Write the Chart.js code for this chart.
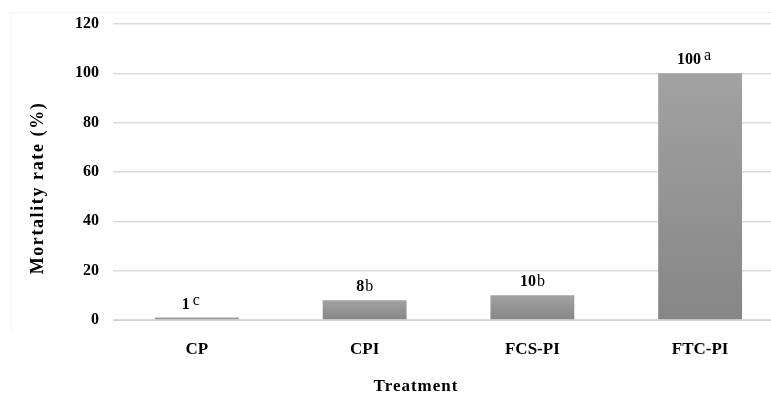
<!DOCTYPE html>
<html>
<head>
<meta charset="utf-8">
<script src="https://cdn.jsdelivr.net/npm/chart.js@4"></script>
<style>
html,body{margin:0;padding:0;background:#fff;overflow:hidden;}
#wrap{position:relative;width:785px;height:396px;}
</style>
</head>
<body>
<div id="wrap"><canvas id="c" width="785" height="396"></canvas></div>
<script>
const categories = ['CP', 'CPI', 'FCS-PI', 'FTC-PI'];
const mortality = [1, 8, 10, 100];
const letters = ['c', 'b', 'b', 'a'];
const yTicks = [0, 20, 40, 60, 80, 100, 120];
const yTitle = 'Mortality rate (%)';
const xTitle = 'Treatment';

const SERIF = '"Liberation Serif", "Times New Roman", serif';

const labelPlugin = {
  id: 'valueLabels',
  afterDatasetsDraw(chart) {
    const ctx = chart.ctx;
    const meta = chart.getDatasetMeta(0);
    ctx.save();
    meta.data.forEach((bar, i) => {
      const num = String(mortality[i]);
      const let_ = letters[i];
      const raised = (let_ === 'a' || let_ === 'c');
      ctx.font = 'bold 16px ' + SERIF;
      const wn = ctx.measureText(num).width;
      ctx.font = '16px ' + SERIF;
      const gap = raised ? 3 : 1;
      const wl = ctx.measureText(let_).width;
      const total = wn + gap + wl;
      const x0 = bar.x - total / 2 - (raised ? 6 : 0);
      const y = bar.y - 9;
      ctx.fillStyle = '#000';
      ctx.textBaseline = 'alphabetic';
      ctx.textAlign = 'left';
      ctx.font = 'bold 16px ' + SERIF;
      ctx.fillText(num, x0, y);
      ctx.font = '16px ' + SERIF;
      ctx.fillText(let_, x0 + wn + gap, y - (raised ? 4 : 0));
    });
    ctx.restore();
  }
};

const titlePlugin = {
  id: 'axisTitles',
  afterDraw(chart) {
    const ctx = chart.ctx;
    const ca = chart.chartArea;
    ctx.save();
    ctx.fillStyle = '#000';
    ctx.textAlign = 'center';
    ctx.textBaseline = 'middle';
    ctx.font = 'bold 18px ' + SERIF;
    try { ctx.letterSpacing = '1.6px'; } catch (e) {}
    ctx.translate(38, ca.top + (ca.bottom - ca.top) / 2 + 16);
    ctx.rotate(-Math.PI / 2);
    ctx.fillText(yTitle, 0, 0);
    ctx.setTransform(1, 0, 0, 1, 0, 0);
    ctx.font = 'bold 17px ' + SERIF;
    try { ctx.letterSpacing = '1px'; } catch (e) {}
    ctx.fillText(xTitle, 416, 387);
    ctx.restore();
  }
};

const borderPlugin = {
  id: 'outerBorder',
  beforeDraw(chart) {
    const ctx = chart.ctx;
    ctx.save();
    ctx.strokeStyle = '#ececec';
    ctx.lineWidth = 1;
    ctx.setLineDash([1, 1]);
    ctx.beginPath();
    ctx.moveTo(11.5, 332);
    ctx.lineTo(11.5, 12.5);
    ctx.lineTo(785, 12.5);
    ctx.stroke();
    ctx.restore();
  }
};

new Chart(document.getElementById('c'), {
  type: 'bar',
  data: {
    labels: categories,
    datasets: [{
      data: mortality,
      backgroundColor: (context) => {
        const chart = context.chart;
        if (!chart.chartArea) return '#999';
        const ys = chart.scales.y;
        const top = ys.getPixelForValue(context.raw);
        const bot = ys.getPixelForValue(0);
        if (!isFinite(top) || !isFinite(bot) || bot - top < 1) return '#8c8c8c';
        const g = chart.ctx.createLinearGradient(0, top, 0, bot);
        g.addColorStop(0, '#a2a2a2');
        g.addColorStop(1, '#868686');
        return g;
      },
      borderWidth: 0,
      categoryPercentage: 1.0,
      barPercentage: 0.5
    }]
  },
  options: {
    responsive: false,
    animation: false,
    devicePixelRatio: 1,
    layout: { padding: { top: 24, right: 1, left: 0, bottom: 0 } },
    plugins: { legend: { display: false }, tooltip: { enabled: false } },
    scales: {
      x: {
        grid: { display: false, drawTicks: false },
        border: { display: true, color: '#d0d0d0', width: 1 },
        ticks: { color: '#000', font: { family: SERIF, size: 17, weight: 'bold' }, padding: 19 },
        title: { display: false },
        afterFit(scale) { scale.height = 76; }
      },
      y: {
        min: 0, max: 120,
        afterBuildTicks(scale) { scale.ticks = yTicks.map(v => ({ value: v })); },
        grid: { color: '#dcdcdc', lineWidth: 1.5, drawTicks: false },
        border: { display: false },
        ticks: { color: '#000', font: { family: SERIF, size: 16, weight: 'bold' }, padding: 14 },
        title: { display: false },
        afterFit(scale) { scale.width = 113; }
      }
    }
  },
  plugins: [labelPlugin, titlePlugin, borderPlugin]
});
</script>
</body>
</html>
